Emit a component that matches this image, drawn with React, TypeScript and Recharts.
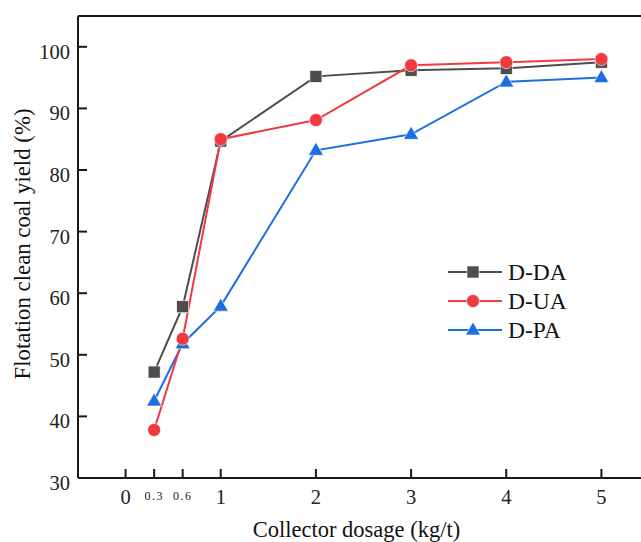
import React from 'react';
import { LineChart, Line, XAxis, YAxis, Label, ReferenceLine } from 'recharts';

const dosage = [0.3, 0.6, 1, 2, 3, 4, 5];
const dda = [47.2, 57.8, 84.7, 95.2, 96.2, 96.5, 97.5];
const dua = [37.8, 52.6, 85.0, 88.1, 97.0, 97.5, 98.0];
const dpa = [42.5, 51.8, 57.9, 83.2, 85.8, 94.3, 95.0];
const xTicks = [0, 0.3, 0.6, 1, 2, 3, 4, 5];
const yTicks = [30, 40, 50, 60, 70, 80, 90, 100];

const data = dosage.map((d, i) => ({ x: d, dda: dda[i], dua: dua[i], dpa: dpa[i] }));

const GRAY = '#4d4d4d';
const RED = '#ef3b40';
const BLUE = '#1c6ee0';
const FONT = '"Liberation Serif", "DejaVu Serif", serif';

const XTick = (props: any) => {
  const { x, y, payload } = props;
  const v = payload.value;
  const small = v > 0 && v < 1;
  return (
    <g>
      <line x1={x} x2={x} y1={y} y2={y - 9} stroke="#1a1a1a" strokeWidth={2} />
      <text
        x={x}
        y={small ? y + 22 : y + 26}
        textAnchor="middle"
        fontFamily={FONT}
        fontSize={small ? 12 : 20.5}
        letterSpacing={small ? 1.5 : 0}
        fill="#222"
      >
        {String(v)}
      </text>
    </g>
  );
};

const YTick = (props: any) => {
  const { x, y, payload } = props;
  return (
    <g>
      <line x1={x} x2={x + 9} y1={y} y2={y} stroke="#1a1a1a" strokeWidth={2} />
      <text x={x - 8} y={y + 12} textAnchor="end" fontFamily={FONT} fontSize={20.5} fill="#222">
        {String(payload.value)}
      </text>
    </g>
  );
};

const Square = (props: any) => {
  const { cx, cy } = props;
  return <rect x={cx - 6} y={cy - 6} width={12} height={12} fill={GRAY} stroke="#fff" strokeWidth={0.6} />;
};
const Circle = (props: any) => {
  const { cx, cy } = props;
  return <circle cx={cx} cy={cy} r={6.5} fill={RED} stroke="#fff" strokeWidth={0.6} />;
};
const Tri = (props: any) => {
  const { cx, cy } = props;
  return (
    <polygon
      points={`${cx},${cy - 8} ${cx - 7.5},${cy + 5} ${cx + 7.5},${cy + 5}`}
      fill={BLUE}
      stroke="#fff"
      strokeWidth={0.6}
    />
  );
};

const legendItems = [
  { name: 'D-DA', color: GRAY, shape: 'square' },
  { name: 'D-UA', color: RED, shape: 'circle' },
  { name: 'D-PA', color: BLUE, shape: 'tri' },
];

const LegendBox = () => (
  <svg width={170} height={90} style={{ position: 'absolute', left: 440, top: 258 }}>
    {legendItems.map((it, i) => {
      const cy = 14 + i * 29;
      return (
        <g key={it.name}>
          <line x1={8} x2={62} y1={cy} y2={cy} stroke={it.color} strokeWidth={2} />
          {it.shape === 'square' && <Square cx={33} cy={cy} />}
          {it.shape === 'circle' && <Circle cx={33} cy={cy} />}
          {it.shape === 'tri' && <Tri cx={33} cy={cy} />}
          <text x={68} y={cy + 8} fontFamily={FONT} fontSize={23.5} fill="#111">
            {it.name}
          </text>
        </g>
      );
    })}
  </svg>
);

export default function App() {
  return (
    <div style={{ position: 'absolute', left: 0, top: 0, width: 641, height: 542, overflow: 'hidden', background: '#fff' }}>
      <LineChart width={660} height={542} data={data} margin={{ top: 16, right: 11, bottom: 0, left: 0 }}>
        <XAxis
          dataKey="x"
          type="number"
          domain={[-0.5, 5.5]}
          ticks={xTicks}
          allowDataOverflow
          height={64}
          tickLine={false}
          tickSize={0}
          tickMargin={0}
          tick={<XTick />}
          axisLine={{ stroke: '#1a1a1a', strokeWidth: 2 }}
          interval={0}
        >
          <Label value="Collector dosage (kg/t)" position="center" dx={-7} dy={19} fontFamily={FONT} fontSize={22.5} fill="#111" />
        </XAxis>
        <YAxis
          type="number"
          domain={[30, 105]}
          ticks={yTicks}
          allowDataOverflow
          width={78}
          tickLine={false}
          tickSize={0}
          tickMargin={0}
          tick={<YTick />}
          axisLine={{ stroke: '#1a1a1a', strokeWidth: 2 }}
          interval={0}
        >
          <Label value="Flotation clean coal yield (%)" angle={-90} position="center" dx={-17} dy={-3} fontFamily={FONT} fontSize={22.8} fill="#111" />
        </YAxis>
        <ReferenceLine y={105} stroke="#1a1a1a" strokeWidth={2} ifOverflow="visible" />
        <Line dataKey="dda" name="D-DA" stroke={GRAY} strokeWidth={2} dot={<Square />} isAnimationActive={false} />
        <Line dataKey="dpa" name="D-PA" stroke={BLUE} strokeWidth={2} dot={<Tri />} isAnimationActive={false} />
        <Line dataKey="dua" name="D-UA" stroke={RED} strokeWidth={2} dot={<Circle />} isAnimationActive={false} />
      </LineChart>
      <LegendBox />
    </div>
  );
}
